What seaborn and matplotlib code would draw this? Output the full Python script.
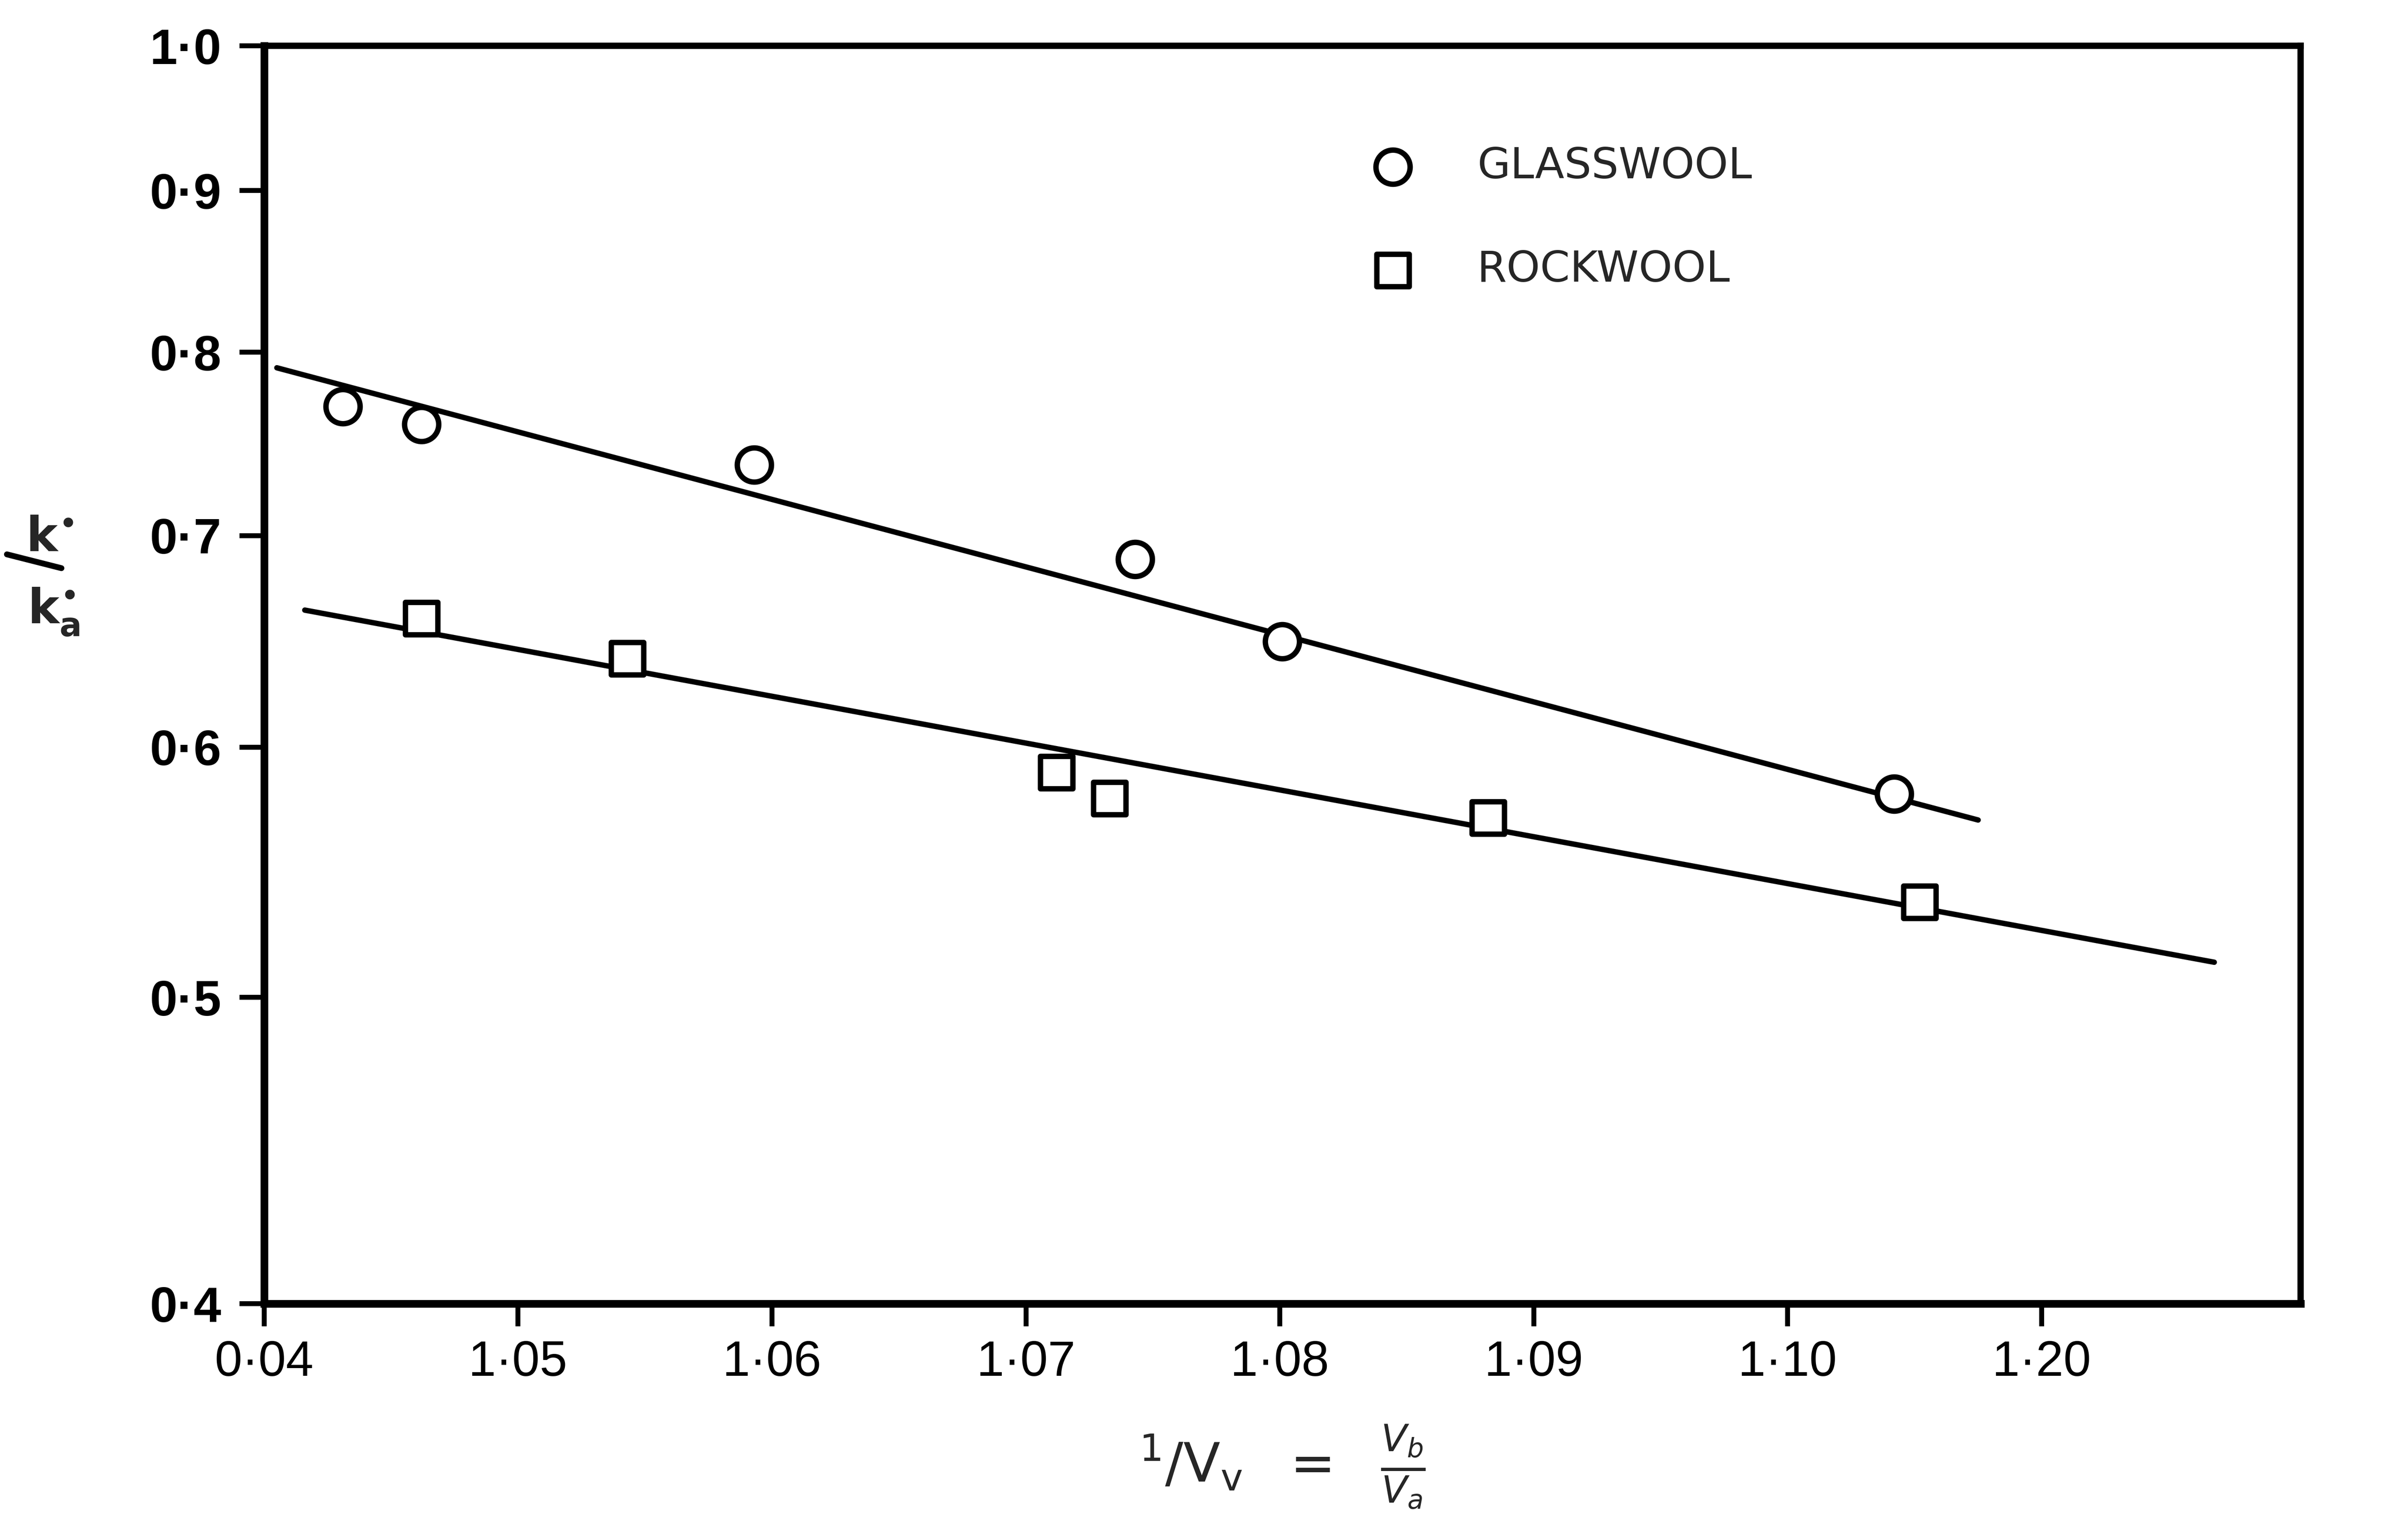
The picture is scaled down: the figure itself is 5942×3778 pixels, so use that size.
import matplotlib
matplotlib.use("Agg")
import matplotlib.pyplot as plt
from matplotlib.lines import Line2D
import seaborn as sns
import pandas as pd

# ---- data ----
glass_x = [1.0431, 1.0462, 1.0593, 1.0743, 1.0801, 1.1042]
glass_y = [0.769, 0.759, 0.737, 0.688, 0.648, 0.580]
rock_x = [1.0462, 1.0543, 1.0712, 1.0733, 1.0882, 1.1052]
rock_y = [0.659, 0.640, 0.589, 0.578, 0.570, 0.536]

glass_fit_x = [1.0405, 1.1075]
glass_fit_y = [0.791, 0.569]
rock_fit_x = [1.0416, 1.1168]
rock_fit_y = [0.663, 0.513]

x_ticks = [1.04, 1.05, 1.06, 1.07, 1.08, 1.09, 1.10, 1.11]
x_tick_labels = ["0·04", "1·05", "1·06", "1·07", "1·08", "1·09", "1·10", "1·20"]
y_ticks = [0.4, 0.5, 0.6, 0.7, 0.8, 0.9, 1.0]
y_tick_labels = ["0·4", "0·5", "0·6", "0·7", "0·8", "0·9", "1·0"]
series_names = ["GLASSWOOL", "ROCKWOOL"]

sns.set_style("ticks")
plt.rcParams["font.family"] = ["DejaVu Sans"]
plt.rcParams["mathtext.fontset"] = "dejavusans"

fig = plt.figure(figsize=(5942 / 400, 3778 / 400), dpi=400)
ax = fig.add_axes([0.1097, 0.1484, 0.8457, 0.8216])

fit_g = pd.DataFrame({"x": glass_fit_x, "y": glass_fit_y})
fit_r = pd.DataFrame({"x": rock_fit_x, "y": rock_fit_y})
sns.lineplot(data=fit_g, x="x", y="y", ax=ax, color="black", lw=2.4,
             estimator=None, sort=False, zorder=2)
sns.lineplot(data=fit_r, x="x", y="y", ax=ax, color="black", lw=2.4,
             estimator=None, sort=False, zorder=2)

pts_g = pd.DataFrame({"x": glass_x, "y": glass_y})
pts_r = pd.DataFrame({"x": rock_x, "y": rock_y})
sns.scatterplot(data=pts_g, x="x", y="y", ax=ax, marker="o", s=230,
                facecolor="white", edgecolor="black", linewidth=2.4,
                zorder=3, label=series_names[0])
sns.scatterplot(data=pts_r, x="x", y="y", ax=ax, marker="s", s=210,
                facecolor="white", edgecolor="black", linewidth=2.4,
                zorder=3, label=series_names[1])

ax.set_yscale("log")
ax.set_xlim(1.04, 1.1202)
ax.set_ylim(0.4, 1.0)
ax.set_xticks(x_ticks)
ax.set_xticklabels(x_tick_labels, family=["Liberation Sans", "DejaVu Sans"],
                   fontsize=22)
ax.yaxis.set_minor_locator(matplotlib.ticker.NullLocator())
ax.set_yticks(y_ticks)
ax.set_yticklabels(y_tick_labels, family=["Liberation Sans", "DejaVu Sans"],
                   fontweight="bold", fontsize=22)
ax.tick_params(axis="x", direction="out", length=10, width=2.2, pad=6, colors="black")
ax.tick_params(axis="y", direction="out", length=11, width=2.2, pad=8, colors="black")
ax.set_xlabel("")
ax.set_ylabel("")

for side in ["left", "bottom"]:
    ax.spines[side].set_linewidth(3.4)
for side in ["top", "right"]:
    ax.spines[side].set_linewidth(2.8)
for sp in ax.spines.values():
    sp.set_color("black")
    sp.set_visible(True)

leg = ax.legend(loc="center left", bbox_to_anchor=(0.5437, 0.863), frameon=False,
                fontsize=19, handlelength=1.0, handletextpad=1.47, labelspacing=1.45,
                borderpad=0, borderaxespad=0)
for t in leg.get_texts():
    t.set_fontweight("medium")

# y-axis label: k' / k'_a
fig.text(17 / 1568, 1 - 359 / 997, r"$\mathbf{k}^{\bullet}$",
         fontsize=21, ha="left", va="baseline")
fig.text(18 / 1568, 1 - 406 / 997, r"$\mathbf{k}^{\bullet}_{\mathbf{a}}$",
         fontsize=21, ha="left", va="baseline")
fig.add_artist(Line2D([4.5 / 1568, 40 / 1568], [1 - 361 / 997, 1 - 370 / 997],
                      transform=fig.transFigure, color="black", lw=2.6))

fig.text(835 / 1568, 1 - 955 / 997,
         r"$^{1}/\mathregular{V_v}\ \ =\ \ \frac{V_b}{V_a}$",
         fontsize=24, ha="center", va="center")

fig.savefig("out.png", dpi=400, facecolor="white")
